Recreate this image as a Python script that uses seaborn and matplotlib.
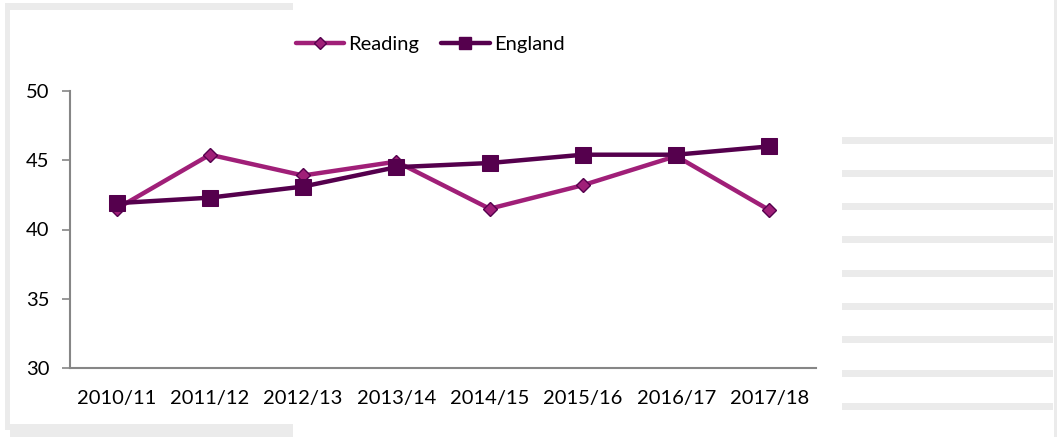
import matplotlib
matplotlib.use("Agg")
import matplotlib.pyplot as plt
from matplotlib.patches import Rectangle
from matplotlib.lines import Line2D
import seaborn as sns
import pandas as pd

years = ["2010/11", "2011/12", "2012/13", "2013/14", "2014/15", "2015/16", "2016/17", "2017/18"]
reading = [41.5, 45.4, 43.9, 44.9, 41.5, 43.2, 45.3, 41.4]
england = [41.9, 42.3, 43.1, 44.5, 44.8, 45.4, 45.4, 46.0]
yticks = [30, 35, 40, 45, 50]

sns.set_theme(style="white")
plt.rcParams['font.family'] = ['Lato', 'DejaVu Sans']
plt.rcParams['text.color'] = 'black'
plt.rcParams['xtick.color'] = 'black'
plt.rcParams['ytick.color'] = 'black'

W, H = 1057, 437
fig = plt.figure(figsize=(W / 100, H / 100), dpi=100)
ax = fig.add_axes([70 / W, 1 - 368 / H, (816 - 70) / W, (368 - 91) / H])

c_read = "#A01F78"
c_eng = "#55004D"
FS = 14.5

df = pd.DataFrame({"year": years, "Reading": reading, "England": england})
xpos = list(range(len(years)))
sns.lineplot(x=xpos, y=df["Reading"], ax=ax, color=c_read, lw=3.2, marker="D",
             markersize=7, markerfacecolor=c_read, markeredgecolor=c_eng,
             markeredgewidth=1, zorder=3)
sns.lineplot(x=xpos, y=df["England"], ax=ax, color=c_eng, lw=3.2, marker="s",
             markersize=12, markerfacecolor=c_eng, markeredgecolor=c_eng, zorder=4)

ax.set_xlim(-0.5, len(years) - 0.5)
ax.set_ylim(30, 50)
ax.set_yticks(yticks)
ax.set_yticklabels([str(v) for v in yticks], fontsize=FS)
ax.set_xticks(xpos)
ax.set_xticklabels(years, fontsize=FS)
ax.set_xticks([i - 0.5 for i in range(len(years) + 1)], minor=True)
ax.tick_params(axis="x", which="major", length=0, pad=16, labelcolor="black")
ax.tick_params(axis="x", which="minor", length=6, color="#868686", width=1.2, direction="out")
ax.tick_params(axis="y", length=6, color="#868686", width=1.2, direction="out", left=True,
               pad=9, labelcolor="black")
ax.set_xlabel("")
ax.set_ylabel("")
for s in ["top", "right"]:
    ax.spines[s].set_visible(False)
for s in ["left", "bottom"]:
    ax.spines[s].set_color("#868686")
    ax.spines[s].set_linewidth(1.5)
ax.grid(False)

handles = [
    Line2D([], [], color=c_read, lw=3.2, marker="D", markersize=6,
           markerfacecolor=c_read, markeredgecolor=c_eng),
    Line2D([], [], color=c_eng, lw=3.2, marker="s", markersize=9,
           markerfacecolor=c_eng, markeredgecolor=c_eng),
]
fig.legend(handles, ["Reading", "England"], loc="center", ncol=2,
           bbox_to_anchor=(430 / W, 1 - 44 / H), frameon=False, fontsize=FS,
           handlelength=2.4, handletextpad=0.2, columnspacing=1.1)

# light grey frame fragments around the picture
gc = "#EBEBEB"
def strip(x0, y0, x1, y1):
    fig.add_artist(Rectangle((x0 / W, 1 - y1 / H), (x1 - x0) / W, (y1 - y0) / H,
                             transform=fig.transFigure, color=gc, lw=0, zorder=0))
strip(5, 3, 293, 10)
strip(5, 10, 10, 430)
strip(10, 424, 293, 437)
for y in [137, 170, 203, 236, 270, 303, 336, 370, 403]:
    strip(842, y, 1053, y + 7)
strip(1054, 0, 1057, 437)

fig.savefig("out.png", dpi=100)
